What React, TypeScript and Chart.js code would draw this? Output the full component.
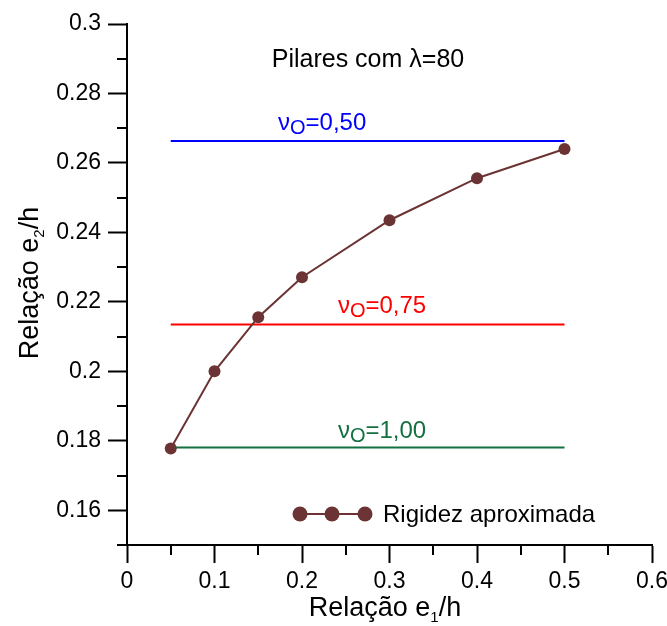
import React, { useEffect, useRef } from 'react';
import { Chart, registerables } from 'chart.js';

Chart.register(...registerables);

// ---- data ----
const X_VALUES = [0.05, 0.1, 0.15, 0.2, 0.3, 0.4, 0.5];
const RIGIDEZ = [0.1778, 0.2, 0.2156, 0.2271, 0.2435, 0.2556, 0.264];
const LINE_X = [0.05, 0.5];
const NU_050 = 0.2663;
const NU_075 = 0.2135;
const NU_100 = 0.1781;
const X_TICKS = [0, 0.1, 0.2, 0.3, 0.4, 0.5, 0.6];
const X_MINOR = [0.05, 0.15, 0.25, 0.35, 0.45, 0.55];
const Y_TICKS = [0.16, 0.18, 0.2, 0.22, 0.24, 0.26, 0.28, 0.3];
const Y_MINOR = [0.15, 0.17, 0.19, 0.21, 0.23, 0.25, 0.27, 0.29];

const FONT = '"Liberation Sans", Arial, sans-serif';
const BROWN = '#6b3333';
const BLUE = '#0000ff';
const RED = '#ff0000';
const GREEN = '#137040';

function drawNu(ctx: CanvasRenderingContext2D, x: number, y: number, rest: string, color: string) {
  ctx.fillStyle = color;
  ctx.textAlign = 'left';
  ctx.textBaseline = 'alphabetic';
  ctx.font = `24px ${FONT}`;
  ctx.fillText('ν', x, y);
  let cx = x + ctx.measureText('ν').width;
  ctx.font = `20px ${FONT}`;
  ctx.fillText('O', cx, y + 4);
  cx += ctx.measureText('O').width;
  ctx.font = `24px ${FONT}`;
  ctx.fillText(rest, cx, y);
}

function drawSubText(ctx: CanvasRenderingContext2D, cx: number, cy: number, a: string, sub: string, b: string, size: number) {
  ctx.textBaseline = 'alphabetic';
  ctx.textAlign = 'left';
  ctx.font = `${size}px ${FONT}`;
  const wa = ctx.measureText(a).width;
  const wb = ctx.measureText(b).width;
  ctx.font = `${Math.round(size * 0.55)}px ${FONT}`;
  const ws = ctx.measureText(sub).width;
  const total = wa + ws + wb;
  let x = cx - total / 2;
  const base = cy + size * 0.35;
  ctx.font = `${size}px ${FONT}`;
  ctx.fillText(a, x, base);
  x += wa;
  ctx.font = `${Math.round(size * 0.55)}px ${FONT}`;
  ctx.fillText(sub, x, base + size * 0.2);
  x += ws;
  ctx.font = `${size}px ${FONT}`;
  ctx.fillText(b, x, base);
}

const decorPlugin = {
  id: 'decor',
  afterDraw(chart: any) {
    const ctx: CanvasRenderingContext2D = chart.ctx;
    const xs = chart.scales.x;
    const ys = chart.scales.y;
    const { left, bottom } = chart.chartArea;
    ctx.save();
    // minor ticks
    ctx.strokeStyle = '#000';
    ctx.lineWidth = 2;
    ctx.beginPath();
    Y_MINOR.forEach((v) => {
      const py = Math.round(ys.getPixelForValue(v));
      ctx.moveTo(left - 10, py);
      ctx.lineTo(left, py);
    });
    X_MINOR.forEach((v) => {
      const px = Math.round(xs.getPixelForValue(v));
      ctx.moveTo(px, bottom);
      ctx.lineTo(px, bottom + 10);
    });
    ctx.stroke();

    // title
    ctx.fillStyle = '#000';
    ctx.font = `25px ${FONT}`;
    ctx.textAlign = 'center';
    ctx.textBaseline = 'middle';
    ctx.fillText('Pilares com λ=80', xs.getPixelForValue(0.2754), ys.getPixelForValue(0.2896));

    // nu labels
    drawNu(ctx, xs.getPixelForValue(0.1726), ys.getPixelForValue(0.2695), '=0,50', BLUE);
    drawNu(ctx, xs.getPixelForValue(0.241), ys.getPixelForValue(0.2167), '=0,75', RED);
    drawNu(ctx, xs.getPixelForValue(0.241), ys.getPixelForValue(0.1807), '=1,00', GREEN);

    // legend
    const ly = 514;
    const lx = [300, 332, 365];
    ctx.strokeStyle = BROWN;
    ctx.lineWidth = 2;
    ctx.beginPath();
    ctx.moveTo(lx[0], ly);
    ctx.lineTo(lx[2], ly);
    ctx.stroke();
    ctx.fillStyle = BROWN;
    lx.forEach((x) => {
      ctx.beginPath();
      ctx.arc(x, ly, 7.5, 0, Math.PI * 2);
      ctx.fill();
    });
    ctx.fillStyle = '#000';
    ctx.font = `24px ${FONT}`;
    ctx.textAlign = 'left';
    ctx.textBaseline = 'middle';
    ctx.fillText('Rigidez aproximada', 383, ly + 1);

    // axis titles
    ctx.fillStyle = '#000';
    drawSubText(ctx, 385, 607, 'Relação e', '1', '/h', 27);
    ctx.save();
    ctx.translate(29, 283);
    ctx.rotate(-Math.PI / 2);
    drawSubText(ctx, 0, 0, 'Relação e', '2', '/h', 27);
    ctx.restore();

    ctx.restore();
  },
};

export default function App() {
  const ref = useRef<HTMLCanvasElement | null>(null);

  useEffect(() => {
    if (!ref.current) return;
    const fmt = (v: number) => String(+Number(v).toFixed(2));
    const hline = (y: number, color: string) => ({
      type: 'line' as const,
      data: LINE_X.map((x) => ({ x, y })),
      borderColor: color,
      backgroundColor: color,
      borderWidth: 2,
      pointRadius: 0,
      order: 2,
    });
    const chart = new Chart(ref.current, {
      type: 'line',
      data: {
        datasets: [
          {
            label: 'Rigidez aproximada',
            data: X_VALUES.map((x, i) => ({ x, y: RIGIDEZ[i] })),
            borderColor: BROWN,
            backgroundColor: BROWN,
            borderWidth: 2,
            pointRadius: 6,
            pointBorderWidth: 0,
            pointBackgroundColor: BROWN,
            order: 1,
          },
          hline(NU_050, BLUE),
          hline(NU_075, RED),
          hline(NU_100, GREEN),
        ],
      },
      options: {
        responsive: false,
        animation: false,
        devicePixelRatio: 1,
        layout: { padding: { left: 0, top: 24, right: 15, bottom: 0 } },
        plugins: { legend: { display: false }, tooltip: { enabled: false } },
        scales: {
          x: {
            type: 'linear',
            min: 0,
            max: 0.6,
            afterBuildTicks: (s: any) => {
              s.ticks = X_TICKS.map((v) => ({ value: v }));
            },
            afterFit: (s: any) => {
              s.height = 81;
              s.paddingLeft = 0;
              s.paddingRight = 0;
            },
            ticks: {
              callback: (v: any) => fmt(v),
              color: '#000',
              font: { family: FONT, size: 23 },
              padding: 5,
              maxRotation: 0,
              autoSkip: false,
            },
            grid: {
              display: true,
              drawOnChartArea: false,
              drawTicks: true,
              tickLength: 18,
              tickWidth: 2,
              tickColor: '#000',
            },
            border: { display: true, color: '#000', width: 2 },
          },
          y: {
            type: 'linear',
            min: 0.15,
            max: 0.3,
            afterBuildTicks: (s: any) => {
              s.ticks = Y_TICKS.map((v) => ({ value: v }));
            },
            afterFit: (s: any) => {
              s.width = 127;
              s.paddingTop = 0;
              s.paddingBottom = 0;
            },
            ticks: {
              callback: (v: any) => fmt(v),
              color: '#000',
              font: { family: FONT, size: 23 },
              padding: 7,
              autoSkip: false,
            },
            grid: {
              display: true,
              drawOnChartArea: false,
              drawTicks: true,
              tickLength: 19,
              tickWidth: 2,
              tickColor: '#000',
            },
            border: { display: true, color: '#000', width: 2 },
          },
        },
      },
      plugins: [decorPlugin],
    });
    return () => chart.destroy();
  }, []);

  return (
    <div style={{ position: 'absolute', left: 0, top: 0, width: 667, height: 626, background: '#fff' }}>
      <canvas ref={ref} width={667} height={626} style={{ width: '667px', height: '626px', display: 'block' }} />
    </div>
  );
}
